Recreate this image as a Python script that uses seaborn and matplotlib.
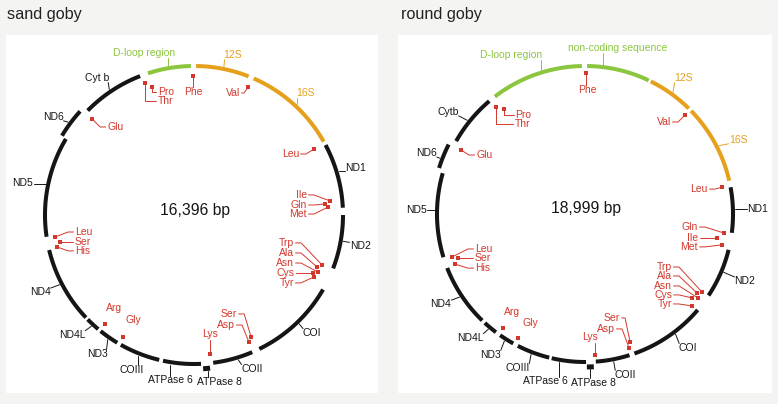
import numpy as np
import matplotlib
matplotlib.use('Agg')
import matplotlib.pyplot as plt
from matplotlib.patches import Rectangle
import seaborn as sns

sns.set_theme(style='white')
plt.rcParams['font.family'] = ['Liberation Sans', 'DejaVu Sans']

# ---------------- data: gene arcs, degrees clockwise from the top ----------------
sand_genes = ['D-loop region', '12S', '16S', 'ND1', 'ND2', 'COI', 'COII', 'ATPase 8',
              'ATPase 6', 'COIII', 'ND3', 'ND4L', 'ND4', 'ND5', 'ND6', 'Cyt b']
sand_start = [342, 0.8, 23.6, 62, 90, 120, 157, 174, 177.3, 193.5, 211, 220, 226.5, 261.6, 301, 314.5]
sand_end = [358.8, 21.5, 60.5, 87.2, 111, 154, 172.6, 176.6, 192, 209.4, 218.8, 225.5, 256.4, 300.7, 312.3, 338.8]

round_genes = ['D-loop region', 'non-coding sequence', '12S', '16S', 'ND1', 'ND2', 'COI', 'COII',
               'ATPase 8', 'ATPase 6', 'COIII', 'ND3', 'ND4L', 'ND4', 'ND5', 'ND6', 'Cytb']
round_start = [322.5, 0.8, 26.4, 45.8, 79.6, 104, 130.4, 162.5, 176.7, 179.6, 194, 209, 217, 224, 253, 287.5, 299.5]
round_end = [358.8, 25.5, 44.5, 77, 97.3, 123.4, 160.5, 175.8, 179.3, 193, 207, 215, 222.6, 248.6, 286, 297, 319.7]

# genes drawn on the outer track
outer_genes = ['ATPase 8', 'ND6']

# tRNA genes
sand_trna = ['Pro', 'Thr', 'Phe', 'Val', 'Leu', 'Ile', 'Gln', 'Met', 'Trp', 'Ala', 'Asn', 'Cys',
             'Tyr', 'Ser', 'Asp', 'Lys', 'Gly', 'Arg', 'His', 'Ser', 'Leu', 'Glu']
sand_trna_pos = [341.8, 339.6, 359.6, 22.9, 61.2, 84.1, 85.2, 86.6, 111.3, 112.9, 114.7, 116,
                 117.3, 154.9, 156.6, 173.4, 210.2, 219.2, 256.9, 258.6, 261, 313.3]

round_trna = ['Pro', 'Thr', 'Phe', 'Val', 'Leu', 'Gln', 'Ile', 'Met', 'Trp', 'Ala', 'Asn', 'Cys',
              'Tyr', 'Ser', 'Asp', 'Lys', 'Gly', 'Arg', 'His', 'Ser', 'Leu', 'Glu']
round_trna_pos = [322.4, 320.2, 0.4, 45.3, 78.9, 97.8, 100.3, 102.7, 123.7, 125.2, 126.6, 128.1,
                  130.7, 160.6, 161.8, 175.9, 208.4, 215.7, 248.9, 250.9, 252.1, 297.3]

sizes_bp = ['16,396 bp', '18,999 bp']
titles = ['sand goby', 'round goby']

# ---------------- layout ----------------
# gene label: (text angle, text radius, tick angle)
sand_label_layout = [(342.8, 169.5, 350), (13.7, 164.7, 11.4), (42.3, 165, 43), (73.8, 168.7, 73),
                     (100.6, 169, 100), (135, 167, 136), (159.4, 164.6, 163), (171.5, 169, 175),
                     (188.3, 167, 189), (201.8, 167, 201.5), (214.9, 169.5, 214.7), (225.5, 171, 222.7),
                     (243.4, 172, 242.6), (280.6, 174, 282), (304.8, 171.7, 306.4), (324.7, 168, 326)]
round_label_layout = [(335, 175, 343), (11.2, 169, 7), (35.8, 167.6, 35.8), (64.2, 170, 63),
                      (88.3, 173, 88), (112.7, 173.5, 112.8), (142.5, 169, 143), (166, 166, 169),
                      (177.3, 169, 178), (193.3, 172, 190), (203.5, 168, 201), (213.7, 169.5, 212.4),
                      (222.8, 169, 220), (238, 170, 236.5), (271.4, 169, 271.5), (291, 170, 291),
                      (306.7, 171, 308.5)]
# tRNA: (inset from arc, label dx, label dy, leader style)
sand_trna_layout = [(14.3, 6, 5, 'v'), (8.2, 13, 18, 'v'), (10, 0, 16, 'vc'), (10, -8, 6, 'h'),
                    (12, -15, 5, 'h'), (12.3, -23, -6, 'h'), (17.5, -18, 1, 'h'), (14.8, -21, 7, 'h'),
                    (11.6, -28, -22, 'h'), (15.5, -23, -14, 'h'), (12.5, -24, -9, 'h'), (16.6, -19, 0, 'h'),
                    (14, -20, 6, 'h'), (14.3, -14, -23, 'h'), (10.6, -14, -17, 'h'), (9, 0, -20, 'vc'),
                    (8, 10, -17, 'none'), (8.3, 9, -16, 'none'), (8.3, 18, 4, 'h'), (12.3, 15, 0, 'h'),
                    (8.3, 20, -5, 'h'), (9, 15, 8, 'h')]
round_trna_layout = [(15.4, 11, 6, 'v'), (8.8, 19, 17, 'v'), (7, 1, 17, 'vc'), (7.3, -14, 7, 'h'),
                     (8.4, -14, 2, 'h'), (7.7, -26, -6, 'h'), (13.8, -19, 0, 'h'), (7.5, -24, 2, 'h'),
                     (7.4, -30, -25, 'h'), (11, -25, -17, 'h'), (7.2, -26, -12, 'h'), (12, -20, -3, 'h'),
                     (7, -20, -2, 'h'), (12.3, -10, -24, 'h'), (7, -14, -19, 'h'), (6.6, -5, -18, 'vc'),
                     (7, 12, -15, 'none'), (7.6, 9, -16, 'none'), (8.7, 20, 4, 'h'), (13.6, 17, 0, 'h'),
                     (8.2, 23, -8, 'h'), (8.5, 15, 5, 'h')]

# panel geometry in pixels (figure is 778 x 404)
panels = [dict(box=(6, 35, 378, 393), center=(194, 215), r=149, title_x=7),
          dict(box=(398, 35, 772, 393), center=(585, 214), r=148, title_x=401)]

GREEN = '#8cc63f'
ORANGE = '#e5a11e'
RED = '#d4382c'
INK = '#151515'
OUTER = 5
FS = 7.5


def gene_color(name):
    if name in ('D-loop region', 'non-coding sequence'):
        return GREEN
    if name in ('12S', '16S'):
        return ORANGE
    return INK


def polar(cx, cy, ang, rad):
    a = np.radians(ang)
    return cx + rad * np.sin(a), cy - rad * np.cos(a)


fig = plt.figure(figsize=(7.78, 4.04), dpi=100)
fig.patch.set_facecolor('#f4f4f3')
ax = fig.add_axes([0, 0, 1, 1])
ax.set_xlim(0, 778)
ax.set_ylim(404, 0)
ax.axis('off')

genes_all = [(sand_genes, sand_start, sand_end, sand_label_layout, sand_trna, sand_trna_pos, sand_trna_layout),
             (round_genes, round_start, round_end, round_label_layout, round_trna, round_trna_pos, round_trna_layout)]

pending_ticks = []
for k, panel in enumerate(panels):
    genes, starts, ends, lab_layout, trnas, trna_pos, trna_layout = genes_all[k]
    x0, y0, x1, y1 = panel['box']
    cx, cy = panel['center']
    r = panel['r']
    ax.add_patch(Rectangle((x0, y0), x1 - x0, y1 - y0, facecolor='white', edgecolor='none', zorder=0))
    ax.text(panel['title_x'], 19, titles[k], fontsize=11.7, color='#222222', va='baseline', ha='left')
    ax.text(cx + 1, cy - 5, sizes_bp[k], fontsize=11.3, color=INK, ha='center', va='center')

    # gene arcs
    for name, s, e in zip(genes, starts, ends):
        if e < s:
            e += 360
        rad = r + OUTER if name in outer_genes else r
        th = np.linspace(s, e, 80)
        xs, ys = polar(cx, cy, th, rad)
        lw = 3.6 if name == 'ATPase 8' else 2.9
        ax.plot(xs, ys, color=gene_color(name), lw=lw, solid_capstyle='butt', zorder=3)

    # gene labels (ticks added once text extents are known)
    for name, (la, lr, ta) in zip(genes, lab_layout):
        tx, ty = polar(cx, cy, la, lr)
        t = ax.text(tx, ty, name, fontsize=FS, color=gene_color(name), ha='center', va='center')
        rad = r + OUTER if name in outer_genes else r
        pending_ticks.append((t, polar(cx, cy, ta, rad + 2.5), gene_color(name)))

    # tRNAs
    for name, ang, (inset, dx, dy, style) in zip(trnas, trna_pos, trna_layout):
        sx, sy = polar(cx, cy, ang, r - inset)
        ax.plot([sx], [sy], marker='s', ms=3.3, mew=0, color=RED, zorder=4)
        axx, ayy = sx + dx, sy + dy
        if style in ('h', 'v'):
            ha = 'right' if dx < 0 else 'left'
        else:
            ha = 'center'
        ax.text(axx, ayy, name, fontsize=FS, color=RED, ha=ha, va='center')
        if style == 'h':
            sgn = 1 if dx < 0 else -1
            stub = min(7, abs(dx) * 0.5)
            px = [axx + sgn * 1.5, axx + sgn * stub, sx]
            py = [ayy, ayy, sy]
        elif style == 'v':
            px = [sx, sx, axx - 1.5]
            py = [sy, ayy, ayy]
        elif style == 'vc':
            off = 5.5 if dy > 0 else -5.5
            px = [sx, sx]
            py = [sy, ayy - off]
        else:
            px, py = [], []
        if px:
            ax.plot(px, py, color=RED, lw=0.7, zorder=3)

# connect gene ticks to their labels
fig.canvas.draw()
renderer = fig.canvas.get_renderer()
inv = ax.transData.inverted()
for t, (px, py), col in pending_ticks:
    bb = t.get_window_extent(renderer).transformed(inv)
    bx0, bx1 = sorted([bb.x0, bb.x1])
    by0, by1 = sorted([bb.y0, bb.y1])
    qx = min(max(px, bx0 + 1), bx1 - 1)
    qy = min(max(py, by0 + 1.5), by1 - 1.5)
    d = np.hypot(qx - px, qy - py)
    if d > 2:
        qx -= (qx - px) / d * 1.2
        qy -= (qy - py) / d * 1.2
    ax.plot([px, qx], [py, qy], color=col, lw=0.7, zorder=2)

fig.savefig('out.png', dpi=100, facecolor=fig.get_facecolor())
